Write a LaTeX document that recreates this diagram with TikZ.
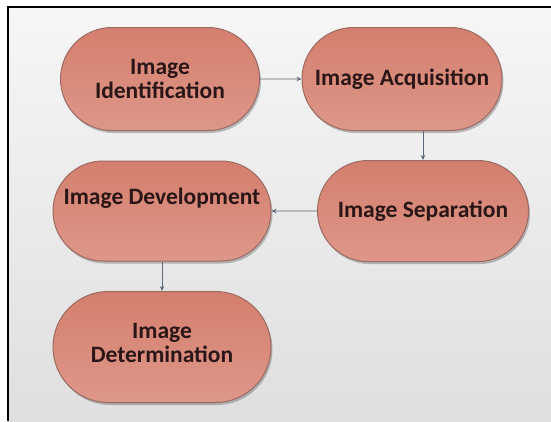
\documentclass[tikz,border=0pt]{standalone}
\usepackage{fontspec}
\setmainfont{Carlito}
\usetikzlibrary{shapes.misc,shadows,arrows.meta}
\definecolor{pagetop}{HTML}{F6F6F6}
\definecolor{pagebottom}{HTML}{DFDFDF}
\definecolor{stagetop}{HTML}{D47F6D}
\definecolor{stagebottom}{HTML}{DE978A}
\definecolor{stageedge}{HTML}{9C6A62}
\definecolor{stagetext}{HTML}{2A1616}
\definecolor{linkcolor}{HTML}{5A6878}
\begin{document}
\begin{tikzpicture}[x=1pt,y=-1pt,
  stage/.style={rounded rectangle, draw=stageedge, line width=1pt,
    top color=stagetop, bottom color=stagebottom,
    font=\bfseries\fontsize{23.5}{24}\selectfont, text=stagetext,
    align=center, inner sep=0pt,
    drop shadow={shadow xshift=1.5pt, shadow yshift=-2.5pt, opacity=0.35, fill=black!70}},
  link/.style={draw=linkcolor, line width=0.9pt, -{Stealth[length=5pt,width=4.5pt]}}]
  % page area and frame
  \useasboundingbox (0,0) rectangle (551,421);
  \fill[white] (0,0) rectangle (551,421);
  \shade[top color=pagetop, bottom color=pagebottom] (8,7) rectangle (551,421);
  \draw[line width=2pt, black] (8,421) -- (8,7) -- (551,7);
  % stages
  \node[stage, minimum width=199pt, minimum height=103pt] (ident) at (160,79) {Image\\Identification};
  \node[stage, minimum width=200pt, minimum height=103pt] (acq) at (402,79) {Image Acquisition};
  \node[stage, minimum width=211pt, minimum height=101pt] (sep) at (423,211) {Image Separation};
  \node[stage, minimum width=218pt, minimum height=100pt, text depth=30pt] (dev) at (162,211) {Image Development};
  \node[stage, minimum width=218pt, minimum height=111pt, text depth=9pt] (det) at (162,347) {Image\\Determination};
  % connectors
  \draw[link] (ident) -- (acq);
  \draw[link] (sep.north |- acq.south) -- (sep.north);
  \draw[link] (sep) -- (dev);
  \draw[link] (dev) -- (det);
\end{tikzpicture}
\end{document}
